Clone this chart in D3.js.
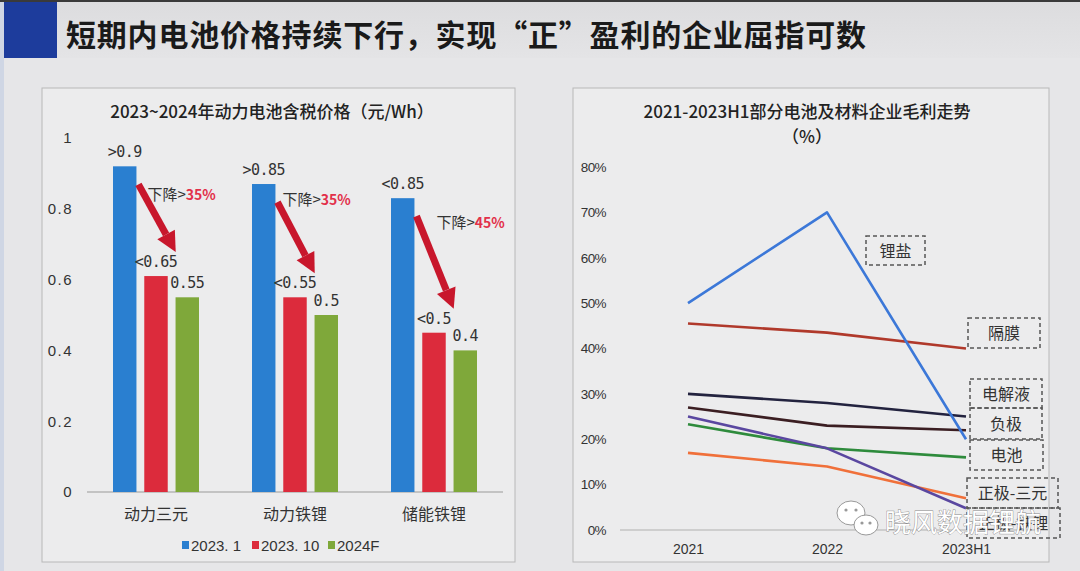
<!DOCTYPE html>
<html>
<head>
<meta charset="utf-8">
<script src="https://cdn.jsdelivr.net/npm/d3@7"></script>
<style>
  body { margin: 0; background: #e6e6e8; }
  svg { display: block; font-family: "Noto Sans CJK SC", "Noto Sans", sans-serif; }
</style>
</head>
<body>
<div id="chart"></div>
<script>
// 左图数据：2023~2024年动力电池含税价格
const categories = ['动力三元', '动力铁锂', '储能铁锂'];
const seriesNames = ['2023.1', '2023.10', '2024F'];
const price2023Jan = [0.92, 0.87, 0.83];
const price2023Oct = [0.61, 0.55, 0.45];
const price2024F = [0.55, 0.50, 0.40];
const priceLabels = [
    ['>0.9', '<0.65', '0.55'],
    ['>0.85', '<0.55', '0.5'],
    ['<0.85', '<0.5', '0.4']
];
const dropPct = ['35%', '35%', '45%'];
const priceTicks = [0, 0.2, 0.4, 0.6, 0.8, 1];

// 右图数据：2021-2023H1毛利走势 (%)
const years = ['2021', '2022', '2023H1'];
const lineNames = ['锂盐', '隔膜', '电解液', '负极', '电池', '正极-三元', '正极-铁锂'];
const marginLiSalt = [50, 70, 20];
const marginSeparator = [45.5, 43.5, 40];
const marginElectrolyte = [30, 28, 25];
const marginAnode = [27, 23, 22];
const marginBattery = [23.3, 18, 16];
const marginNCM = [17, 14, 7];
const marginLFP = [25, 18, 4.8];
const marginTicks = [0, 10, 20, 30, 40, 50, 60, 70, 80];

// 样式
const barColors = ['#2a7fd0', '#dc2b3c', '#7fa83a'];
const lineColors = ['#3c78d8', '#b0392b', '#23233f', '#3b1e22', '#2e8b3c', '#f0703a', '#5a47a0'];
// 标签框位置（布局）
const labelBoxes = [
    [866, 236, 59, 29], [968, 318, 72, 30], [970, 379, 72, 29], [970, 408, 72, 31],
    [970, 440, 73, 30], [967, 478, 91, 30], [967, 508, 93, 30]
];
const dropTextOffset = [[11, 34], [7, 21], [22, 30]];

const W = 1080, H = 571;
const svg = d3.select('#chart').append('svg').attr('width', W).attr('height', H);

// 背景
svg.append('rect').attr('width', W).attr('height', H).attr('fill', '#e6e6e8');
const grad = svg.append('defs').append('linearGradient').attr('id', 'tb').attr('x1', 0).attr('x2', 0).attr('y1', 0).attr('y2', 1);
grad.append('stop').attr('offset', 0).attr('stop-color', '#dcdcde');
grad.append('stop').attr('offset', 1).attr('stop-color', '#e4e4e6');
svg.append('rect').attr('x', 0).attr('y', 0).attr('width', W).attr('height', 58).attr('fill', 'url(#tb)');
svg.append('rect').attr('x', 0).attr('y', 0).attr('width', W).attr('height', 2).attr('fill', '#3a3a3a');
svg.append('rect').attr('x', 0).attr('y', 2).attr('width', 4).attr('height', H).attr('fill', '#cfd6e4');
svg.append('rect').attr('x', 4).attr('y', 2).attr('width', 53).attr('height', 56).attr('fill', '#1d3c9c');
svg.append('text').attr('x', 66).attr('y', 46)
    .attr('font-size', 30).attr('font-weight', 'bold').attr('fill', '#1a1a1a').attr('letter-spacing', 0.8)
    .text('短期内电池价格持续下行，实现“正”盈利的企业屈指可数');

// 面板
svg.append('rect').attr('x', 42).attr('y', 88).attr('width', 473).attr('height', 474)
    .attr('fill', '#ececed').attr('stroke', '#b8b8b8');
svg.append('rect').attr('x', 573).attr('y', 88).attr('width', 476).attr('height', 474)
    .attr('fill', '#ececed').attr('stroke', '#b8b8b8');

// ---------- 左图 ----------
const left = svg.append('g');
left.append('text').attr('x', 272).attr('y', 118).attr('text-anchor', 'middle')
    .attr('font-size', 17).attr('font-weight', 500).attr('fill', '#222')
    .text('2023~2024年动力电池含税价格（元/Wh）');

const y0 = d3.scaleLinear().domain([0, 1]).range([492, 138]);
const x0 = d3.scaleBand().domain(categories).range([86.5, 503.5]);
const x1 = d3.scaleBand().domain(seriesNames).range([-43, 43]).paddingInner(0.25);
const seriesVals = [price2023Jan, price2023Oct, price2024F];

const yAxisL = left.append('g').attr('transform', 'translate(78,0)')
    .call(d3.axisLeft(y0).tickValues(priceTicks).tickSize(0).tickPadding(5)
        .tickFormat(d => d === 0 || d === 1 ? String(d) : d3.format('.1f')(d)));
yAxisL.select('.domain').remove();
yAxisL.selectAll('text').attr('font-size', 15).attr('fill', '#333')
    .attr('font-family', '"Liberation Sans", sans-serif').attr('letter-spacing', 1.5);

left.append('line').attr('x1', 87).attr('x2', 503).attr('y1', y0(0)).attr('y2', y0(0))
    .attr('stroke', '#999').attr('stroke-width', 1.2);

categories.forEach((c, i) => {
    const cx = x0(c) + x0.bandwidth() / 2;
    const g = left.append('g').attr('transform', `translate(${cx},0)`);
    seriesNames.forEach((s, j) => {
        const v = seriesVals[j][i];
        g.append('rect').attr('x', x1(s)).attr('y', y0(v))
            .attr('width', x1.bandwidth()).attr('height', y0(0) - y0(v))
            .attr('fill', barColors[j]);
        g.append('text').attr('x', x1(s) + x1.bandwidth() / 2).attr('y', y0(v) - 9)
            .attr('text-anchor', 'middle').attr('font-size', 15).attr('fill', '#333')
            .attr('font-family', '"DejaVu Sans Mono", monospace').attr('letter-spacing', -0.5)
            .text(priceLabels[i][j]);
    });
    // 下降箭头
    const bR = cx + x1(seriesNames[0]) + x1.bandwidth();
    const rR = cx + x1(seriesNames[1]) + x1.bandwidth();
    const sx = bR + 2, sy = y0(price2023Jan[i]) + 18;
    const ex = rR + 8, ey = y0(price2023Oct[i]) - 24;
    const ang = Math.atan2(ey - sy, ex - sx);
    const hl = 20, hw = 10;
    const bx = ex - hl * Math.cos(ang), by = ey - hl * Math.sin(ang);
    const nx = -Math.sin(ang), ny = Math.cos(ang);
    left.append('line').attr('x1', sx).attr('y1', sy).attr('x2', bx).attr('y2', by)
        .attr('stroke', '#c8172c').attr('stroke-width', 7);
    left.append('path')
        .attr('d', `M${ex},${ey}L${bx + nx * hw},${by + ny * hw}L${bx - nx * hw},${by - ny * hw}Z`)
        .attr('fill', '#c8172c');
    const t = left.append('text').attr('x', bR + dropTextOffset[i][0]).attr('y', y0(price2023Jan[i]) + dropTextOffset[i][1])
        .attr('font-size', 15).attr('fill', '#333');
    t.append('tspan').text('下降>');
    t.append('tspan').attr('fill', '#e2304a').attr('font-weight', 'bold').attr('font-size', 14).text(dropPct[i]);
    // 类目标签
    left.append('text').attr('x', cx).attr('y', 520).attr('text-anchor', 'middle')
        .attr('font-size', 16).attr('fill', '#333').text(c);
});

// 图例
const legX = [182, 252, 328];
seriesNames.forEach((s, j) => {
    left.append('rect').attr('x', legX[j]).attr('y', 541).attr('width', 7).attr('height', 8).attr('fill', barColors[j]);
    left.append('text').attr('x', legX[j] + 9).attr('y', 551).attr('font-size', 15).attr('fill', '#333')
        .attr('font-family', '"Liberation Sans", sans-serif')
        .text(s.replace('.', '. '));
});

// ---------- 右图 ----------
const right = svg.append('g');
right.append('text').attr('x', 807).attr('y', 118).attr('text-anchor', 'middle')
    .attr('font-size', 17).attr('font-weight', 500).attr('fill', '#222')
    .text('2021-2023H1部分电池及材料企业毛利走势');
right.append('text').attr('x', 807).attr('y', 143).attr('text-anchor', 'middle')
    .attr('font-size', 17).attr('font-weight', 500).attr('fill', '#222').text('（%）');

const xr = d3.scalePoint().domain(years).range([688, 966]);
const yr = d3.scaleLinear().domain([0, 80]).range([530, 167]);

const yAxisR = right.append('g').attr('transform', 'translate(610,0)')
    .call(d3.axisLeft(yr).tickValues(marginTicks).tickSize(0).tickPadding(4).tickFormat(d => d + '%'));
yAxisR.select('.domain').remove();
yAxisR.selectAll('text').attr('font-size', 13.5).attr('fill', '#333').attr('letter-spacing', -0.6);

right.append('line').attr('x1', 620).attr('x2', 1048).attr('y1', yr(0)).attr('y2', yr(0))
    .attr('stroke', '#b0b0b0').attr('stroke-width', 1.2);

const xAxisR = right.append('g').attr('transform', `translate(0,${yr(0)})`)
    .call(d3.axisBottom(xr).tickSize(0).tickPadding(14));
xAxisR.select('.domain').remove();
xAxisR.selectAll('text').attr('font-size', 14).attr('fill', '#333');

const marginSeries = [marginLiSalt, marginSeparator, marginElectrolyte, marginAnode, marginBattery, marginNCM, marginLFP];
const line = d3.line().x((d, i) => xr(years[i])).y(d => yr(d));
const drawOrder = [1, 2, 3, 4, 5, 6, 0];
drawOrder.forEach(k => {
    right.append('path').attr('d', line(marginSeries[k])).attr('fill', 'none')
        .attr('stroke', lineColors[k]).attr('stroke-width', 2.6).attr('stroke-linejoin', 'round');
});

lineNames.forEach((n, k) => {
    const b = labelBoxes[k];
    right.append('rect').attr('x', b[0]).attr('y', b[1]).attr('width', b[2]).attr('height', b[3])
        .attr('fill', 'none').attr('stroke', '#555').attr('stroke-width', 1.5).attr('stroke-dasharray', '4,3');
    right.append('text').attr('x', b[0] + b[2] / 2).attr('y', b[1] + b[3] / 2 + 6)
        .attr('text-anchor', 'middle').attr('font-size', 16).attr('fill', '#333').text(n);
});

// 水印
const wm = svg.append('g');
wm.append('ellipse').attr('cx', 851).attr('cy', 513).attr('rx', 14).attr('ry', 12)
    .attr('fill', '#fff').attr('stroke', '#999').attr('stroke-width', 1);
wm.append('ellipse').attr('cx', 866).attr('cy', 525).attr('rx', 12).attr('ry', 10)
    .attr('fill', '#fff').attr('stroke', '#999').attr('stroke-width', 1);
[[846, 510], [856, 510], [862, 523], [870, 523]].forEach(p => {
    wm.append('circle').attr('cx', p[0]).attr('cy', p[1]).attr('r', 1.6).attr('fill', '#999');
});
wm.append('text').attr('x', 885).attr('y', 532).attr('font-size', 26).attr('fill', '#fff')
    .attr('stroke', '#8a8a8a').attr('stroke-width', 0.8).attr('paint-order', 'stroke')
    .text('晓风数据锂航');
</script>
</body>
</html>
